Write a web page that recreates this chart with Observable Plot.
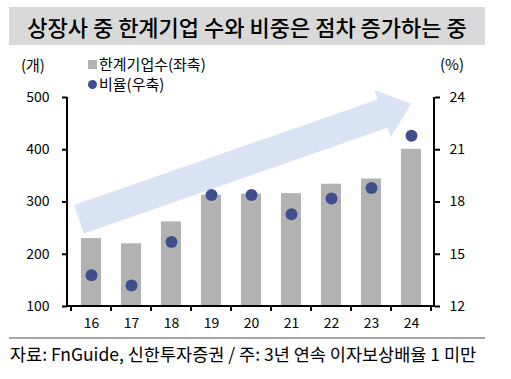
<!DOCTYPE html>
<html><head><meta charset="utf-8">
<script src="https://cdn.jsdelivr.net/npm/d3@7"></script>
<script src="https://cdn.jsdelivr.net/npm/@observablehq/plot@0.6"></script>
<style>
body{margin:0;background:#fff;font-family:"Noto Sans CJK KR","Noto Sans",sans-serif;color:#000;}
#wrap{position:relative;width:511px;height:379px;overflow:hidden;}
#chart{position:absolute;left:0;top:0;}
#title{position:absolute;left:9px;top:7px;width:476px;height:38px;background:#d9d9d9;font-size:22px;font-weight:500;line-height:38px;text-align:center;white-space:nowrap;}
.t{position:absolute;white-space:nowrap;font-size:15px;line-height:18px;}
#sq{position:absolute;left:88px;top:60px;width:9px;height:9px;background:#b2b2b2;}
#dt{position:absolute;left:88px;top:80px;width:9px;height:9px;border-radius:50%;background:#3f4e8c;}
#sep{position:absolute;left:9px;top:337px;width:476px;height:2px;background:#a6a6a6;}
#cap{position:absolute;left:10px;top:343px;font-size:17.5px;line-height:22px;white-space:nowrap;}
</style></head>
<body>
<div id="wrap">
  <div id="chart"></div>
  <div id="title">상장사 중 한계기업 수와 비중은 점차 증가하는 중</div>
  <div class="t" style="left:21px;top:56px">(개)</div>
  <div class="t" style="left:440px;top:55px">(%)</div>
  <div id="sq"></div><div class="t" style="left:99px;top:55px">한계기업수(좌축)</div>
  <div id="dt"></div><div class="t" style="left:99px;top:75px">비율(우축)</div>
  <div id="sep"></div>
  <div id="cap">자료: FnGuide, 신한투자증권 / 주: 3년 연속 이자보상배율 1 미만</div>
</div>
<script>
const years = ["16","17","18","19","20","21","22","23","24"];
const counts = [230, 220, 262, 313, 315, 316, 334, 344, 401];
const rates = [13.8, 13.2, 15.7, 18.4, 18.4, 17.3, 18.2, 18.8, 21.8];
const leftTicks = [100, 200, 300, 400, 500];
const rightTicks = [12, 15, 18, 21, 24];
const leftDomain = [100, 500];
const rightDomain = [12, 24];
// trend arrow annotation (band + offset in steps, left-axis value)
const arrowFrom = {year: "16", shift: -0.3, value: 266};
const arrowTo = {year: "24", shift: 0, value: 487};

const toLeft = r => leftDomain[0] + (r - rightDomain[0]) * (leftDomain[1] - leftDomain[0]) / (rightDomain[1] - rightDomain[0]);
const toRight = v => rightDomain[0] + (v - leftDomain[0]) * (rightDomain[1] - rightDomain[0]) / (leftDomain[1] - leftDomain[0]);

const data = years.map((y, i) => ({year: y, count: counts[i], rate: rates[i]}));

function bandInfo(x) {
  const step = x(years[1]) - x(years[0]);
  const bw = typeof x.bandwidth === "function" ? x.bandwidth() : step / 2;
  return {step, bw};
}

function arrowMark(index, scales) {
  const x = scales.x, y = scales.y;
  const {step, bw} = bandInfo(x);
  const px = p => x(p.year) + bw / 2 + p.shift * step;
  const x0 = px(arrowFrom), y0 = y(arrowFrom.value);
  const x1 = px(arrowTo), y1 = y(arrowTo.value);
  const len = Math.hypot(x1 - x0, y1 - y0);
  const ux = (x1 - x0) / len, uy = (y1 - y0) / len;
  const nx = -uy, ny = ux;
  const body = 15, head = 25, headLen = 30;
  const bx = x1 - ux * headLen, by = y1 - uy * headLen;
  const pts = [
    [x0 + nx * body, y0 + ny * body],
    [bx + nx * body, by + ny * body],
    [bx + nx * head, by + ny * head],
    [x1, y1],
    [bx - nx * head, by - ny * head],
    [bx - nx * body, by - ny * body],
    [x0 - nx * body, y0 - ny * body]
  ];
  return d3.create("svg:path")
    .attr("d", "M" + pts.map(p => p.join(",")).join("L") + "Z")
    .attr("fill", "#dae3f3").node();
}

function boundaryTicks(index, scales, values, dims) {
  const x = scales.x;
  const {step, bw} = bandInfo(x);
  const g = d3.create("svg:g").attr("stroke", "#000").attr("stroke-width", 2);
  const yb = dims.height - dims.marginBottom;
  for (let i = 0; i <= years.length; i++) {
    const xb = i < years.length ? x(years[i]) - (step - bw) / 2 : x(years[years.length - 1]) + bw + (step - bw) / 2;
    g.append("line").attr("x1", xb).attr("x2", xb).attr("y1", yb).attr("y2", yb + 5);
  }
  const l = dims.marginLeft, r = dims.width - dims.marginRight, t = dims.marginTop;
  g.append("line").attr("x1", l).attr("x2", l).attr("y1", t).attr("y2", yb + 1);
  g.append("line").attr("x1", r).attr("x2", r).attr("y1", t).attr("y2", yb + 1);
  g.append("line").attr("x1", l - 1).attr("x2", r + 1).attr("y1", yb).attr("y2", yb);
  return g.node();
}

const chart = Plot.plot({
  width: 511,
  height: 340,
  marginTop: 97,
  marginBottom: 34,
  marginLeft: 67,
  marginRight: 77,
  style: {fontFamily: "'Noto Sans CJK KR', 'Noto Sans', sans-serif", fontSize: "14px", background: "transparent", color: "#000"},
  x: {type: "band", domain: years, paddingInner: 0.5, paddingOuter: 0.25},
  y: {domain: leftDomain},
  marks: [
    arrowMark,
    Plot.barY(data, {x: "year", y1: () => leftDomain[0], y2: "count", fill: "#b2b2b2"}),
    Plot.dot(data, {x: "year", y: d => toLeft(d.rate), r: 6, fill: "#3f4e8c"}),
    Plot.axisY(leftTicks, {anchor: "left", tickSize: 5, tickPadding: 13, strokeWidth: 2, label: null, fontSize: 14}),
    Plot.axisY(rightTicks.map(toLeft), {anchor: "right", tickSize: 5, tickPadding: 10, strokeWidth: 2, label: null, fontSize: 14, tickFormat: v => String(Math.round(toRight(v)))}),
    Plot.axisX(years, {anchor: "bottom", tickSize: 0, tickPadding: 12, label: null, fontSize: 14}),
    boundaryTicks
  ]
});
document.getElementById("chart").appendChild(chart);
</script>
</body></html>
